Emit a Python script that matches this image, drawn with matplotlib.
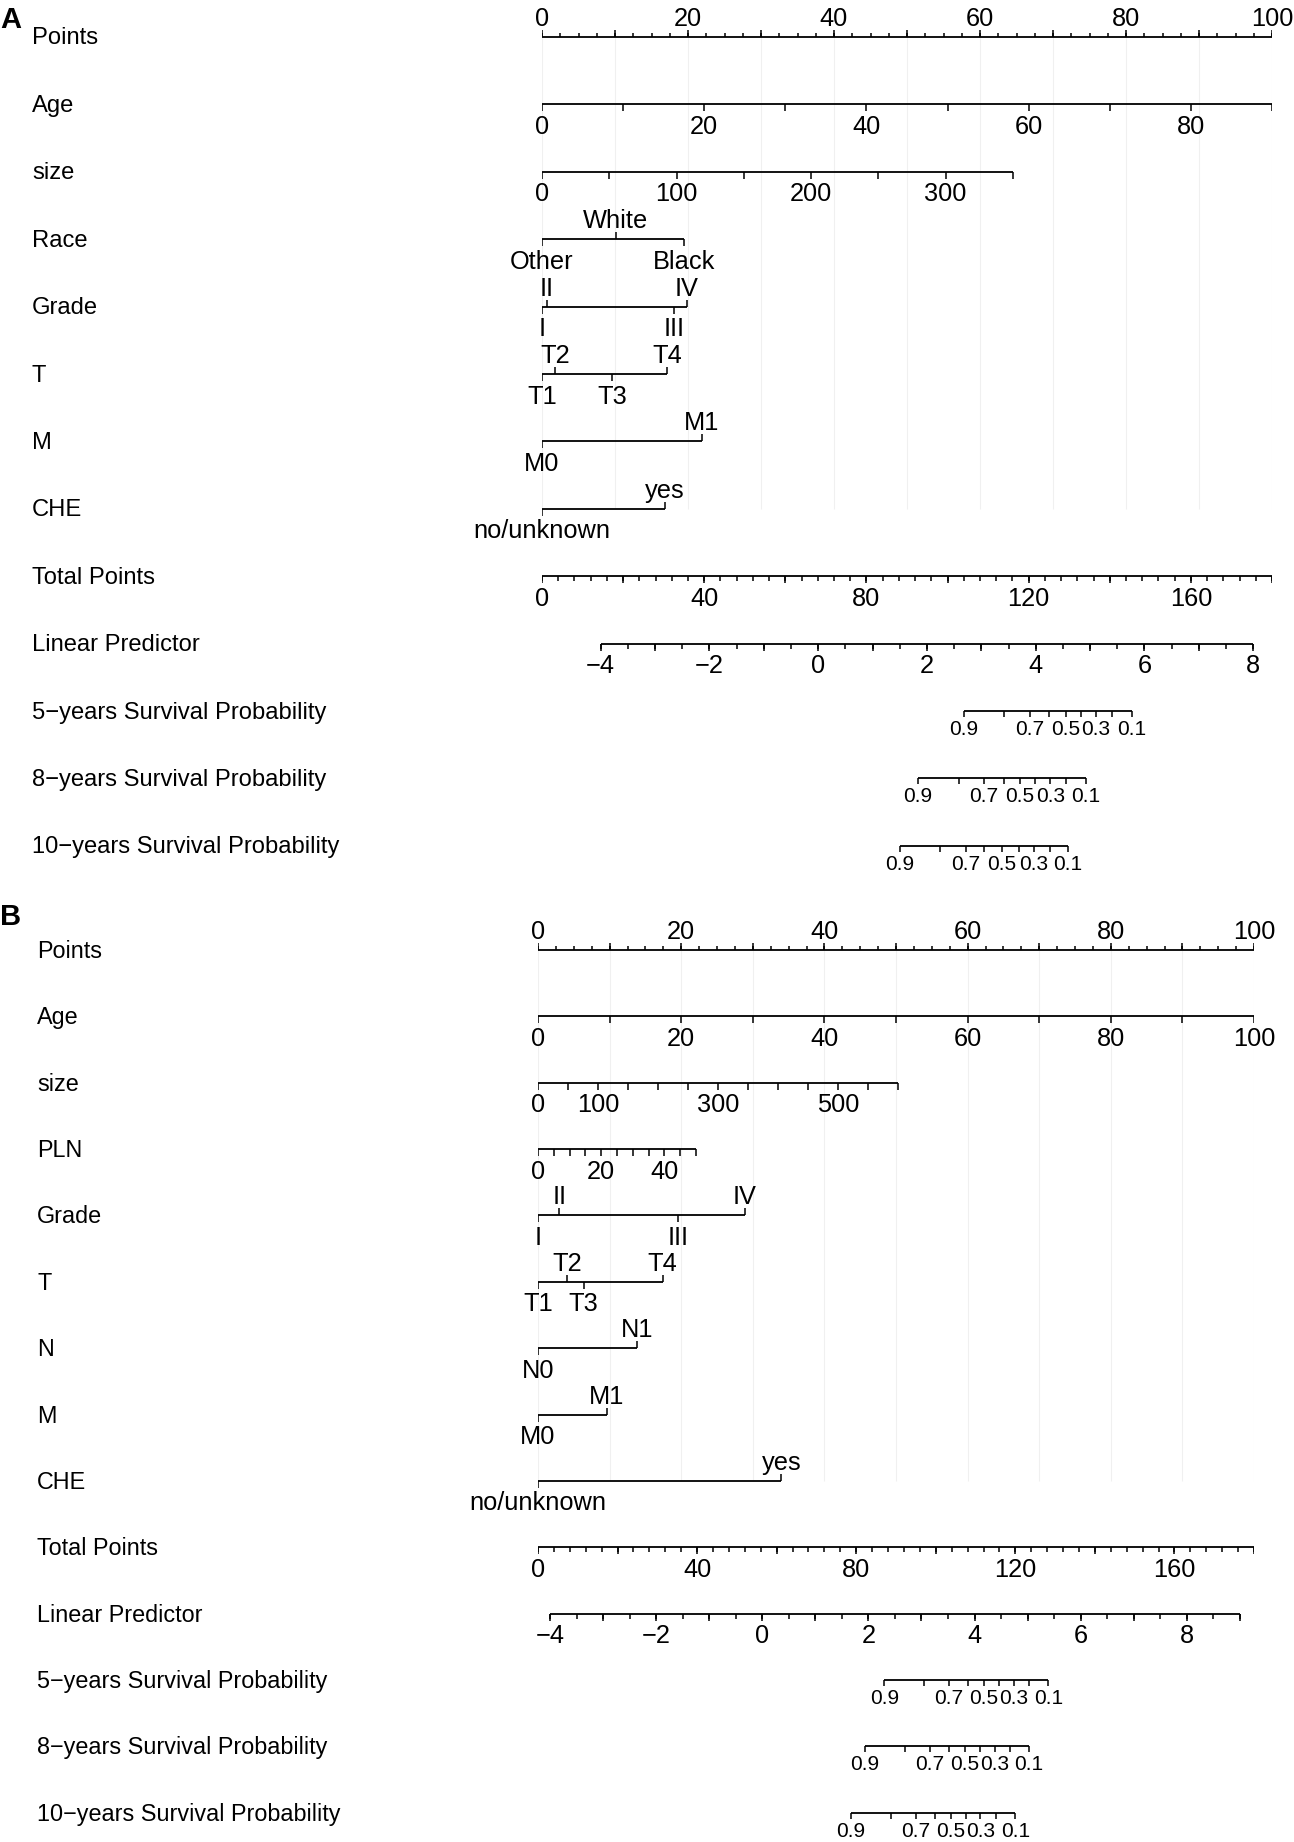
import matplotlib
matplotlib.use("Agg")
import matplotlib.pyplot as plt
import numpy as np
from matplotlib.transforms import blended_transform_factory

plt.rcParams['font.family'] = ['Liberation Sans', 'DejaVu Sans']

# ------------------------------------------------------------------ data
MINUS = "\u2212"
row_names_A = ["Points", "Age", "size", "Race", "Grade", "T", "M", "CHE",
               "Total Points", "Linear Predictor",
               "5" + MINUS + "years Survival Probability",
               "8" + MINUS + "years Survival Probability",
               "10" + MINUS + "years Survival Probability"]
row_names_B = ["Points", "Age", "size", "PLN", "Grade", "T", "N", "M", "CHE",
               "Total Points", "Linear Predictor",
               "5" + MINUS + "years Survival Probability",
               "8" + MINUS + "years Survival Probability",
               "10" + MINUS + "years Survival Probability"]

points_minor = np.arange(0, 100.01, 2.5)
points_major = np.arange(0, 100.01, 10)
points_labels = [0, 20, 40, 60, 80, 100]

# Panel A continuous variables: (max value, points at max)
A_age_max, A_age_pts = 90, 100.0
A_age_ticks = list(range(0, 91, 10))
A_age_labels = [0, 20, 40, 60, 80]
A_size_max, A_size_pts = 350, 64.5
A_size_ticks = list(range(0, 351, 50))
A_size_labels = [0, 100, 200, 300]

# Panel A categorical variables
A_race_levels = ["Other", "White", "Black"]
A_race_points = [0.0, 10.1, 19.4]
A_grade_levels = ["I", "II", "III", "IV"]
A_grade_points = [0.0, 0.7, 18.1, 19.8]
A_T_levels = ["T1", "T2", "T3", "T4"]
A_T_points = [0.0, 1.8, 9.6, 17.1]
A_M_levels = ["M0", "M1"]
A_M_points = [0.0, 21.9]
A_CHE_levels = ["no/unknown", "yes"]
A_CHE_points = [0.0, 16.8]

# Panel A total points / linear predictor
A_total_max = 180
A_total_labels = [0, 40, 80, 120, 160]
A_lp_at_total0 = -5.079
A_lp_per_total = 0.07458
A_lp_min, A_lp_max = -4, 8
A_lp_labels = [-4, -2, 0, 2, 4, 6, 8]

surv_probs = [0.9, 0.8, 0.7, 0.6, 0.5, 0.4, 0.3, 0.2, 0.1]
surv_labelled = [0.9, 0.7, 0.5, 0.3, 0.1]
A_surv5_lp = [2.678, 3.419, 3.892, 4.246, 4.553, 4.842, 5.105, 5.404, 5.767]
A_surv8_lp = [1.827, 2.586, 3.051, 3.414, 3.708, 3.996, 4.272, 4.566, 4.921]
A_surv10_lp = [1.502, 2.246, 2.715, 3.051, 3.382, 3.684, 3.971, 4.259, 4.590]

# Panel B continuous variables
B_age_max, B_age_pts = 100, 100.0
B_age_ticks = list(range(0, 101, 10))
B_age_labels = [0, 20, 40, 60, 80, 100]
B_size_max, B_size_pts = 600, 50.24
B_size_ticks = list(range(0, 601, 50))
B_size_labels = [0, 100, 300, 500]
B_pln_max, B_pln_pts = 50, 22.05
B_pln_ticks = list(range(0, 51, 5))
B_pln_labels = [0, 20, 40]

# Panel B categorical variables
B_grade_levels = ["I", "II", "III", "IV"]
B_grade_points = [0.0, 3.0, 19.6, 28.87]
B_T_levels = ["T1", "T2", "T3", "T4"]
B_T_points = [0.0, 4.09, 6.38, 17.42]
B_N_levels = ["N0", "N1"]
B_N_points = [0.0, 13.87]
B_M_levels = ["M0", "M1"]
B_M_points = [0.0, 9.64]
B_CHE_levels = ["no/unknown", "yes"]
B_CHE_points = [0.0, 33.98]

B_total_max = 180
B_total_labels = [0, 40, 80, 120, 160]
B_lp_at_total0 = -4.226
B_lp_per_total = 0.07496
B_lp_min, B_lp_max = -4, 9
B_lp_labels = [-4, -2, 0, 2, 4, 6, 8]

B_surv5_lp = [2.299, 3.047, 3.518, 3.871, 4.178, 4.461, 4.743, 5.032, 5.389]
B_surv8_lp = [1.936, 2.684, 3.155, 3.513, 3.820, 4.103, 4.385, 4.668, 5.026]
B_surv10_lp = [1.672, 2.420, 2.897, 3.255, 3.556, 3.833, 4.108, 4.404, 4.768]

# ------------------------------------------------------------------ style
W, H, DPI = 1294, 1842, 100
FS_ROW_A = 17.1
FS_ROW_B = 16.8
FS_TICK = 18.3
FS_SURV = 15.0
FS_LETTER = 21
LW_AX = 1.3
LW_TK = 1.1
MAJ = 7.0
MIN = 3.6
ABOVE = 11.0
BELOW = 29.5
SURV_BELOW = 24.0
GRID_C = "#f0f0f0"

fig = plt.figure(figsize=(W / DPI, H / DPI), dpi=DPI)


def fmt(v):
    if isinstance(v, float) and not float(v).is_integer():
        return ("%g" % v)
    return ("%d" % v).replace("-", MINUS)


def hline(ax, y, x0, x1):
    ax.plot([x0, x1], [y, y], color="black", lw=LW_AX, solid_capstyle="butt")


def ticks(ax, y, xs, length, up):
    y2 = y - length if up else y + length
    ax.vlines(xs, y, y2, color="black", lw=LW_TK)


def text_at(ax, x, y, s, up, fs=FS_TICK, below=BELOW):
    yy = y - ABOVE if up else y + below
    ax.text(x, yy, s, ha="center", va="baseline", fontsize=fs, clip_on=False)


def continuous(ax, y, vmax, pmax, tick_vals, label_vals):
    scale = pmax / vmax
    hline(ax, y, 0, vmax * scale)
    ticks(ax, y, np.array(tick_vals) * scale, MAJ, False)
    for v in label_vals:
        text_at(ax, v * scale, y, fmt(v), False)


def categorical(ax, y, levels, pts):
    hline(ax, y, min(pts), max(pts))
    order = np.argsort(pts)
    for rank, i in enumerate(order):
        up = (rank % 2 == 1)
        ticks(ax, y, [pts[i]], MAJ, up)
        text_at(ax, pts[i], y, levels[i], up)


def panel(ax_rect, row_names, y0, dy, label_x, fs_row, letter, letter_y, vars_draw,
          total_max, total_labels, lp0, lpslope, lpmin, lpmax, lp_labels, survs):
    ax = fig.add_axes(ax_rect)
    ax.set_xlim(0, 100)
    ax.set_ylim(H, 0)
    ax.axis("off")
    ys = [y0 + dy * i for i in range(len(row_names))]
    tr = blended_transform_factory(fig.transFigure, ax.transData)
    for name, y in zip(row_names, ys):
        ax.text(label_x / W, y + 1.5, name, transform=tr, ha="left", va="center",
                fontsize=fs_row)
    ax.text(0.0, letter_y, letter, transform=tr, ha="left", va="baseline",
            fontsize=FS_LETTER, fontweight="bold")
    n_vars = len(vars_draw)
    # grid lines
    ax.vlines(points_major, ys[0], ys[n_vars], color=GRID_C, lw=0.8, zorder=0)
    # points axis
    hline(ax, ys[0], 0, 100)
    ticks(ax, ys[0], points_minor, MIN, True)
    ticks(ax, ys[0], points_major, MAJ, True)
    for v in points_labels:
        text_at(ax, v, ys[0], fmt(v), True)
    # variables
    for k, fn in enumerate(vars_draw):
        fn(ax, ys[k + 1])
    # total points
    yt = ys[n_vars + 1]
    tscale = 100.0 / total_max
    hline(ax, yt, 0, total_max * tscale)
    ticks(ax, yt, np.arange(0, total_max + 0.01, 4) * tscale, MIN + 1.5, False)
    ticks(ax, yt, np.arange(0, total_max + 0.01, 20) * tscale, MAJ, False)
    for v in total_labels:
        text_at(ax, v * tscale, yt, fmt(v), False)
    # linear predictor
    yl = ys[n_vars + 2]

    def lp_x(lp):
        return (np.asarray(lp) - lp0) / lpslope * tscale

    hline(ax, yl, lp_x(lpmin), lp_x(lpmax))
    ticks(ax, yl, lp_x(np.arange(lpmin, lpmax + 0.01, 0.5)), MIN + 1.5, False)
    ticks(ax, yl, lp_x(np.arange(lpmin, lpmax + 0.01, 1.0)), MAJ, False)
    for v in lp_labels:
        text_at(ax, lp_x(v), yl, fmt(v), False)
    # survival
    for j, lps in enumerate(survs):
        ysv = ys[n_vars + 3 + j]
        xs = lp_x(lps)
        hline(ax, ysv, xs.min(), xs.max())
        ticks(ax, ysv, xs, 6.0, False)
        for p, x in zip(surv_probs, xs):
            if p in surv_labelled:
                text_at(ax, x, ysv, "%g" % p, False, fs=FS_SURV, below=SURV_BELOW)
    return ax


vars_A = [
    lambda ax, y: continuous(ax, y, A_age_max, A_age_pts, A_age_ticks, A_age_labels),
    lambda ax, y: continuous(ax, y, A_size_max, A_size_pts, A_size_ticks, A_size_labels),
    lambda ax, y: categorical(ax, y, A_race_levels, A_race_points),
    lambda ax, y: categorical(ax, y, A_grade_levels, A_grade_points),
    lambda ax, y: categorical(ax, y, A_T_levels, A_T_points),
    lambda ax, y: categorical(ax, y, A_M_levels, A_M_points),
    lambda ax, y: categorical(ax, y, A_CHE_levels, A_CHE_points),
]
vars_B = [
    lambda ax, y: continuous(ax, y, B_age_max, B_age_pts, B_age_ticks, B_age_labels),
    lambda ax, y: continuous(ax, y, B_size_max, B_size_pts, B_size_ticks, B_size_labels),
    lambda ax, y: continuous(ax, y, B_pln_max, B_pln_pts, B_pln_ticks, B_pln_labels),
    lambda ax, y: categorical(ax, y, B_grade_levels, B_grade_points),
    lambda ax, y: categorical(ax, y, B_T_levels, B_T_points),
    lambda ax, y: categorical(ax, y, B_N_levels, B_N_points),
    lambda ax, y: categorical(ax, y, B_M_levels, B_M_points),
    lambda ax, y: categorical(ax, y, B_CHE_levels, B_CHE_points),
]

panel([542 / W, 0, 730 / W, 1], row_names_A, 37.0, 67.4, 32, FS_ROW_A, "A", 28,
      vars_A, A_total_max, A_total_labels, A_lp_at_total0, A_lp_per_total,
      A_lp_min, A_lp_max, A_lp_labels, [A_surv5_lp, A_surv8_lp, A_surv10_lp])
panel([538 / W, 0, 716 / W, 1], row_names_B, 950.0, 66.36, 37, FS_ROW_B, "B", 925,
      vars_B, B_total_max, B_total_labels, B_lp_at_total0, B_lp_per_total,
      B_lp_min, B_lp_max, B_lp_labels, [B_surv5_lp, B_surv8_lp, B_surv10_lp])

fig.savefig("out.png", dpi=DPI, facecolor="white")
